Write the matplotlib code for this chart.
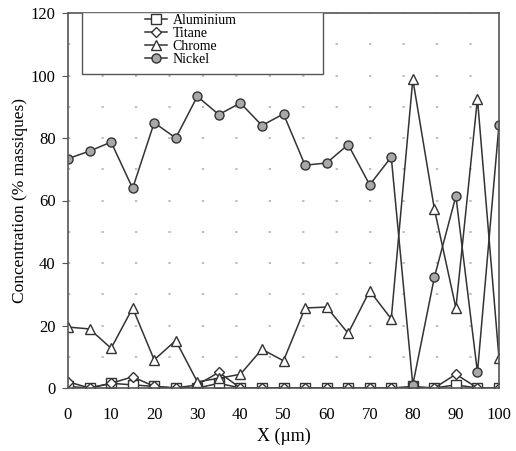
import numpy as np
import matplotlib
matplotlib.use("Agg")
import matplotlib.pyplot as plt
from matplotlib.patches import Rectangle

plt.rcParams['font.family'] = ['Liberation Serif', 'DejaVu Serif']

x = [0, 5, 10, 15, 20, 25, 30, 35, 40, 45, 50, 55, 60, 65, 70, 75, 80, 85, 90, 95, 100]
aluminium = [0.5, 0, 1.5, 1, 0.5, 0, 0, 1.5, 0, 0, 0, 0, 0, 0, 0, 0, 0.5, 0, 1, 0, 0]
titane = [2, 0, 1.5, 3.6, 0.5, 0, 1, 5, 0, 0, 0, 0, 0, 0, 0, 0, 0, 0, 4.4, 0, 0]
chrome = [19.5, 18.9, 12.7, 25.6, 9, 15.2, 2, 3.1, 4.4, 12.4, 8.7, 25.6, 25.9, 17.5,
          31.1, 22.1, 98.8, 57.3, 25.6, 92.6, 9.5]
nickel = [73.4, 75.8, 78.7, 63.9, 84.9, 80, 93.3, 87.5, 91.2, 84, 87.7, 71.3, 72, 77.9,
          65, 73.9, 1, 35.4, 61.4, 5, 84.3]

fig = plt.figure(figsize=(5.16, 4.51), dpi=100)
ax = fig.add_axes([68/516, 1-388/451, (499-68)/516, (388-13)/451])

lc = '#333333'
kw = dict(color=lc, lw=1.1, markersize=6.5, markeredgecolor=lc, markeredgewidth=1.0)
ax.plot(x, aluminium, marker='s', markerfacecolor='white', label='Aluminium', **kw)
ax.plot(x, titane, marker='D', markerfacecolor='white', label='Titane',
        **{**kw, 'markersize': 5.5})
ax.plot(x, chrome, marker='^', markerfacecolor='white', label='Chrome', **kw)
ax.plot(x, nickel, marker='o', markerfacecolor='#a8a8a8', label='Nickel', **kw)

ax.set_xlim(0, 100)
ax.set_ylim(0, 120)
ax.set_xticks(range(0, 101, 10))
ax.set_yticks(range(0, 121, 20))
ax.set_yticks(range(10, 120, 20), minor=True)
ax.grid(axis='y', which='both', color='#bdbdbd', linestyle=(0, (1.2, 16)), lw=1.4)
ax.tick_params(axis='both', labelsize=12, direction='out', length=4, color='#555555')
ax.tick_params(axis='y', which='minor', length=0)
ax.tick_params(axis='x', pad=14, length=0)
ax.tick_params(axis='y', pad=5)
for s in ax.spines.values():
    s.set_color('#555555')
    s.set_linewidth(1.2)
ax.set_xlabel('X (µm)', fontsize=13, labelpad=3)
ax.set_ylabel('Concentration (% massiques)', fontsize=12.5, labelpad=2)

# legend frame
ax.add_patch(Rectangle((82/516, 1-74/451), (323-82)/516, (74-12)/451,
                       transform=fig.transFigure, facecolor='white',
                       edgecolor='#555555', lw=1.0, zorder=5))
leg = ax.legend(loc='upper left', bbox_to_anchor=(145/516, 1-14/451),
                bbox_transform=fig.transFigure, frameon=False, fontsize=10,
                labelspacing=0.0, handlelength=1.6, handletextpad=0.4,
                borderpad=0, borderaxespad=0)
leg.set_zorder(6)

fig.savefig('out.png', dpi=100)
